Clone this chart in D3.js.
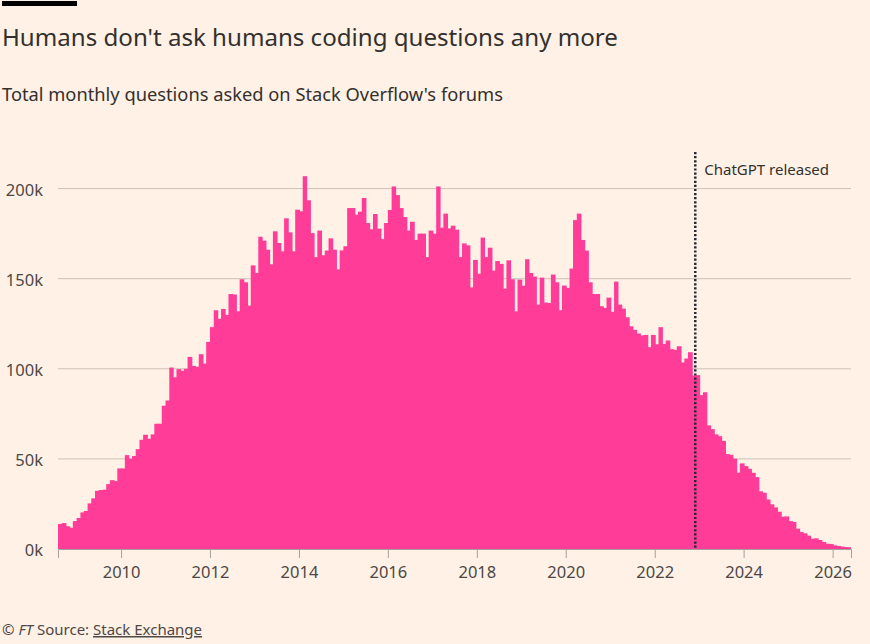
<!DOCTYPE html>
<html>
<head>
<meta charset="utf-8">
<script src="https://cdn.jsdelivr.net/npm/d3@7"></script>
<style>
  body { margin: 0; background: #fff1e5; }
  svg { display: block; font-family: "Noto Sans", sans-serif; }
</style>
</head>
<body>
<svg id="chart" width="870" height="644"></svg>
<script>
// monthly questions (thousands), starting Aug 2008
const firstMonth = '2008-08';
const questions = [
  13.9, 14.4, 12.6, 11.8, 15.5,
  17.2, 20.3, 21.1, 25.3, 28.1, 32.3, 32.7, 32.9, 36.0, 38.2, 37.7, 44.7,
  44.7, 52.1, 50.1, 51.6, 55.4, 60.6, 63.4, 61.2, 63.6, 69.5, 69.5, 79.5,
  82.4, 100.7, 95.3, 99.8, 98.9, 100.0, 106.6, 101.6, 101.1, 108.1, 102.9, 114.9,
  123.1, 132.5, 127.7, 133.2, 129.9, 141.5, 141.2, 131.9, 149.7, 148.0, 135.1, 157.4,
  153.2, 173.3, 171.1, 166.1, 158.0, 176.3, 169.8, 165.2, 183.5, 175.7, 165.2, 188.3,
  187.4, 206.9, 193.5, 175.3, 162.0, 176.7, 163.0, 165.6, 172.4, 166.1, 155.2, 165.7,
  168.0, 189.2, 189.2, 185.5, 187.2, 194.8, 180.9, 177.4, 185.9, 177.8, 172.0, 180.9,
  188.1, 201.2, 196.4, 189.2, 184.2, 176.7, 181.6, 171.5, 175.0, 175.0, 162.0, 176.7,
  175.0, 201.2, 178.3, 186.1, 177.9, 179.4, 177.2, 162.0, 169.6, 168.5, 145.2, 160.4,
  152.8, 172.8, 162.0, 167.2, 154.5, 159.8, 158.2, 144.5, 160.2, 149.7, 131.9, 149.5,
  146.1, 160.8, 153.2, 151.2, 135.6, 150.6, 136.8, 136.5, 152.3, 148.0, 132.5, 146.2,
  144.9, 155.6, 182.5, 186.1, 171.5, 165.6, 148.0, 141.5, 141.5, 134.7, 133.8, 139.5,
  131.6, 148.4, 135.6, 133.4, 128.6, 123.6, 121.6, 119.6, 118.5, 118.8, 112.0, 118.8,
  113.6, 123.1, 113.8, 115.7, 110.9, 110.5, 112.5, 103.5, 105.7, 109.2, 96.3, 96.5,
  85.4, 87.0, 68.6, 66.5, 63.6, 62.6, 60.0, 52.7, 52.3, 50.1, 42.3, 47.5,
  46.0, 44.5, 42.3, 39.9, 32.0, 31.2, 27.5, 24.8, 23.1, 20.7, 17.9, 18.1,
  15.5, 15.0, 11.3, 9.4, 8.7, 7.4, 5.7, 5.9, 5.0, 3.9, 2.9, 2.8,
  2.0, 1.7, 1.3, 1.1, 1.0
];
const yTicks = [0, 50, 100, 150, 200];
const xTickYears = [2010, 2012, 2014, 2016, 2018, 2020, 2022, 2024, 2026];
const chatgptDate = '2022-11-30';

const parseMonth = d3.timeParse('%Y-%m');
const start = parseMonth(firstMonth);
const data = questions.map((v, i) => ({ date: d3.timeMonth.offset(start, i), value: v }));
const end = d3.timeMonth.offset(start, questions.length);

const svg = d3.select('#chart');
const plotLeft = 58, plotRight = 851, plotBottom = 549, plotTop = 188.6;

const x = d3.scaleTime().domain([start, end]).range([plotLeft, plotRight]);
const y = d3.scaleLinear().domain([0, 200]).range([plotBottom, plotTop]);

// header
svg.append('rect').attr('x', 2).attr('y', 1).attr('width', 75).attr('height', 5).attr('fill', '#000');
svg.append('text').attr('x', 2).attr('y', 46)
  .attr('font-size', 24.1).attr('fill', '#33302e')
  .text("Humans don't ask humans coding questions any more");
svg.append('text').attr('x', 2).attr('y', 101)
  .attr('font-size', 18.3).attr('fill', '#33302e')
  .text("Total monthly questions asked on Stack Overflow's forums");

// gridlines + y labels
const yAxis = svg.append('g');
yAxis.selectAll('line').data(yTicks.slice(1)).enter().append('line')
  .attr('x1', plotLeft).attr('x2', plotRight)
  .attr('y1', d => y(d)).attr('y2', d => y(d))
  .attr('stroke', '#ccc1b7').attr('stroke-width', 1);
yAxis.selectAll('text').data(yTicks).enter().append('text')
  .attr('x', 43).attr('y', d => y(d) + 7)
  .attr('text-anchor', 'end').attr('font-size', 16.5).attr('fill', '#4d4845')
  .text(d => d + 'k');

// bars (slight overlap so no seams show between months)
svg.append('g').selectAll('rect').data(data).enter().append('rect')
  .attr('x', d => x(d.date))
  .attr('width', (d, i) => x(d3.timeMonth.offset(d.date, 1)) - x(d.date) + (i < data.length - 1 ? 1 : 0))
  .attr('y', d => y(d.value))
  .attr('height', d => y(0) - y(d.value))
  .attr('fill', '#ff3d98');

// x axis
const xAxis = svg.append('g').attr('transform', `translate(0,${plotBottom})`)
  .call(d3.axisBottom(x)
    .tickValues(xTickYears.map(yr => new Date(yr, 0, 1)))
    .tickFormat(d3.timeFormat('%Y'))
    .tickSize(9).tickPadding(8));
xAxis.select('.domain').attr('stroke', '#a7a09a');
xAxis.selectAll('.tick line').attr('stroke', '#a7a09a');
xAxis.selectAll('.tick text').attr('font-size', 16.5).attr('fill', '#4d4845')
  .attr('font-family', '"Noto Sans", sans-serif');

// ChatGPT annotation
const cx = x(d3.timeParse('%Y-%m-%d')(chatgptDate));
svg.append('line').attr('x1', cx).attr('x2', cx).attr('y1', 152).attr('y2', plotBottom)
  .attr('stroke', '#262a33').attr('stroke-width', 2.5).attr('stroke-dasharray', '2.2,1.9');
svg.append('text').attr('x', cx + 9).attr('y', 175)
  .attr('font-size', 15).attr('fill', '#33302e').text('ChatGPT released');

// footer
const foot = svg.append('text').attr('x', 2).attr('y', 635).attr('font-size', 15).attr('fill', '#4d4845');
foot.append('tspan').text('© ');
foot.append('tspan').attr('font-style', 'italic').text('FT');
foot.append('tspan').text(' Source: ');
foot.append('tspan').attr('text-decoration', 'underline').text('Stack Exchange');
</script>
</body>
</html>
